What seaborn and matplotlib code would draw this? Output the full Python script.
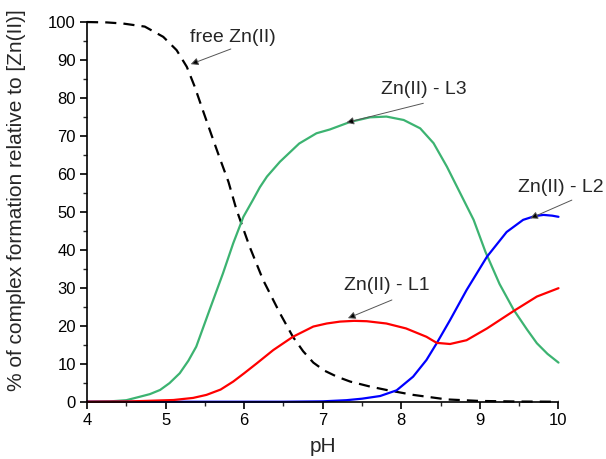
import numpy as np
import pandas as pd
import matplotlib
matplotlib.use("Agg")
import matplotlib.pyplot as plt
from matplotlib.ticker import MultipleLocator
import seaborn as sns

# ---- data ----
free_ph = [4.0, 4.25, 4.46, 4.735, 4.97, 5.14, 5.27, 5.37, 5.48, 5.585, 5.69, 5.80, 5.90, 6.07, 6.24,
           6.455, 6.62, 6.75, 6.88, 7.02, 7.18, 7.35, 7.6, 7.81, 8.15, 8.58, 9.0, 9.5, 10.0]
free_val = [100, 99.9, 99.6, 98.8, 96.1, 92.6, 88.2, 83.0, 76.4, 70.2, 64.1, 57.9, 50.7, 40.8, 32.1,
            23.3, 17.1, 13.3, 10.3, 8.2, 6.6, 5.3, 4.0, 3.1, 1.8, 0.6, 0.2, 0.05, 0.0]

l3_ph = [4.0, 4.3, 4.5, 4.67, 4.8, 4.93, 5.05, 5.18, 5.29, 5.39, 5.56, 5.73, 5.86, 5.99, 6.11, 6.2, 6.29,
         6.455, 6.7, 6.92, 7.09, 7.35, 7.60, 7.81, 8.03, 8.24, 8.41, 8.58, 8.75, 8.92, 9.07, 9.25, 9.43,
         9.6, 9.725, 9.86, 10.0]
l3_val = [0.0, 0.1, 0.4, 1.3, 2.0, 3.1, 4.9, 7.5, 10.8, 14.5, 24.2, 33.8, 41.7, 48.7, 53.1, 56.5, 59.3,
          63.2, 68.0, 70.7, 71.7, 73.7, 74.9, 75.1, 74.2, 72.0, 68.1, 61.9, 54.9, 47.9, 39.5, 31.0, 24.2,
          19.0, 15.4, 12.6, 10.3]

l2_ph = [4.0, 6.5, 7.0, 7.3, 7.5, 7.73, 7.94, 8.15, 8.32, 8.45, 8.62, 8.83, 9.09, 9.34, 9.55, 9.70, 9.81, 9.92, 10.0]
l2_val = [0.0, 0.0, 0.1, 0.4, 0.8, 1.5, 3.0, 6.6, 11.0, 15.4, 21.5, 29.4, 38.2, 44.7, 47.9, 48.9, 49.2, 49.0, 48.7]

l1_ph = [4.0, 4.5, 5.1, 5.35, 5.52, 5.7, 5.86, 6.0, 6.16, 6.37, 6.62, 6.88, 7.05, 7.22, 7.4, 7.56, 7.81,
         8.06, 8.32, 8.45, 8.62, 8.83, 9.09, 9.43, 9.725, 10.0]
l1_val = [0.0, 0.05, 0.45, 1.0, 1.8, 3.2, 5.3, 7.5, 10.1, 13.6, 17.1, 19.8, 20.6, 21.1, 21.3, 21.2, 20.6,
          19.3, 17.1, 15.5, 15.2, 16.2, 19.3, 23.9, 27.7, 29.9]

labels = ["free Zn(II)", "Zn(II) - L3", "Zn(II) - L2", "Zn(II) - L1"]
x_ticks = [4, 5, 6, 7, 8, 9, 10]
y_ticks = [0, 10, 20, 30, 40, 50, 60, 70, 80, 90, 100]

sns.set_style("ticks")
plt.rcParams['font.family'] = ['Liberation Sans', 'DejaVu Sans']

fig = plt.figure(figsize=(6.06, 4.59), dpi=100)
ax = fig.add_axes([0.1436, 0.1248, 0.7780, 0.8272])

series = [
    (free_ph, free_val, "black", (0, (5, 3.2))),
    (l3_ph, l3_val, "#3cb371", "-"),
    (l2_ph, l2_val, "#0000ff", "-"),
    (l1_ph, l1_val, "#ff0000", "-"),
]
for xs, ys, col, ls in series:
    df = pd.DataFrame({"pH": xs, "val": ys})
    sns.lineplot(data=df, x="pH", y="val", ax=ax, color=col, linestyle=ls,
                 linewidth=1.6, estimator=None, clip_on=False)

ax.set_xlim(4, 10)
ax.set_ylim(0, 100)
ax.set_xticks(x_ticks)
ax.set_yticks(y_ticks)
ax.xaxis.set_minor_locator(MultipleLocator(0.5))
ax.yaxis.set_minor_locator(MultipleLocator(5))
ax.tick_params(which="major", direction="out", length=5, width=1.2, labelsize=12, colors="black", pad=3)
ax.tick_params(which="minor", direction="out", length=3, width=1.0)
sns.despine(ax=ax)
for s in ["left", "bottom"]:
    ax.spines[s].set_linewidth(1.2)
    ax.spines[s].set_color("black")

ax.set_xlabel("pH", fontsize=15)
ax.set_ylabel("% of complex formation relative to [Zn(II)]", fontsize=15)
ax.xaxis.set_label_coords(0.5, -0.093)
ax.yaxis.set_label_coords(-0.13, 0.53)

arrow = dict(arrowstyle="-|>", lw=0.7, ec="#555555", fc="black", mutation_scale=11, shrinkA=0, shrinkB=0)
ann = [
    (labels[0], (5.32, 88.9), (5.83, 92.9), (5.86, 96.0)),
    (labels[1], (7.30, 73.5), (8.28, 78.6), (8.29, 82.1)),
    (labels[2], (9.64, 48.3), (10.17, 53.1), (10.03, 56.5)),
    (labels[3], (7.32, 22.0), (7.88, 26.8), (7.81, 30.6)),
]
for txt, head, tail, tpos in ann:
    ax.annotate("", xy=head, xytext=tail, arrowprops=arrow, annotation_clip=False)
    ax.text(tpos[0], tpos[1], txt, fontsize=14, ha="center", va="center", clip_on=False)

fig.savefig("out.png", dpi=100)
